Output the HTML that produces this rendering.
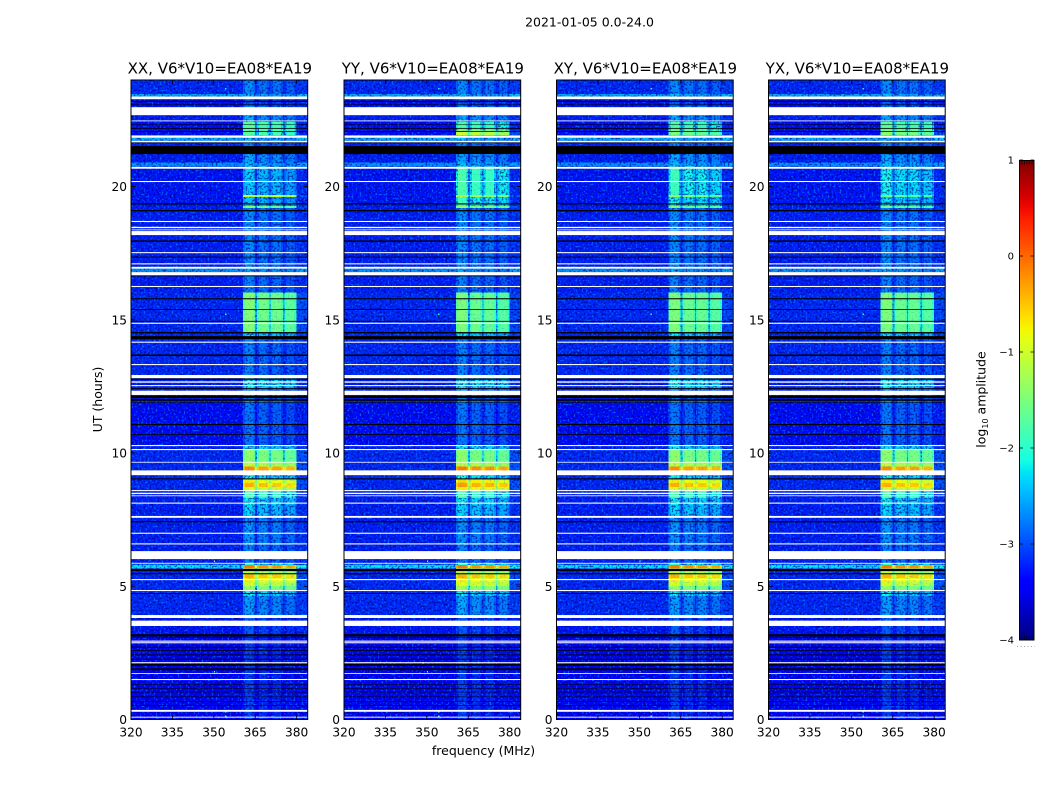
<!DOCTYPE html>
<html><head><meta charset="utf-8"><style>
html,body{margin:0;padding:0;background:#fff}
svg{display:block}
text{font-family:"DejaVu Sans","Liberation Sans",sans-serif;fill:#000}
</style></head>
<body>
<svg id="fig" xmlns="http://www.w3.org/2000/svg" width="1050" height="800" viewBox="0 0 1050 800">
<defs>
<filter id="speckleLight" x="0" y="0" width="100%" height="100%" color-interpolation-filters="sRGB">
<feTurbulence type="fractalNoise" baseFrequency="0.5" numOctaves="1" seed="4"/>
<feColorMatrix values="0 0 0 0 0  0 0 0 0 0.5  0 0 0 0 1  6 0 0 0 -3.3"/>
</filter>
<filter id="speckleDark" x="0" y="0" width="100%" height="100%" color-interpolation-filters="sRGB">
<feTurbulence type="fractalNoise" baseFrequency="0.5" numOctaves="1" seed="11"/>
<feColorMatrix values="0 0 0 0 0  0 0 0 0 0  0 0 0 0 0.55  6 0 0 0 -2.9"/>
</filter>
<linearGradient id="jetGradient" x1="0" y1="1" x2="0" y2="0"></linearGradient>
</defs>
<text x="589.5" y="26.5" font-size="12.5" text-anchor="middle">2021-01-05 0.0-24.0</text>
<text transform="translate(102,399.5) rotate(-90)" font-size="12.5" text-anchor="middle">UT (hours)</text>
<text x="483.5" y="755" font-size="12.5" text-anchor="middle">frequency (MHz)</text>
<text transform="translate(985.5,399.5) rotate(-90)" font-size="12.5" text-anchor="middle">log<tspan font-size="8" dy="2.5">10</tspan><tspan dy="-2.5"> amplitude</tspan></text>
</svg>
<script>
// ---------- chart data (log10 amplitude, UT hours, MHz) ----------
const panelTitles = ["XX, V6*V10=EA08*EA19","YY, V6*V10=EA08*EA19","XY, V6*V10=EA08*EA19","YX, V6*V10=EA08*EA19"];
const panelLeft = [131,344,556.5,768.5];
const freqTicks = [320,335,350,365,380];
const utTicks = [0,5,10,15,20];
const colorTicks = [-4,-3,-2,-1,0,1];
const subbandStart = [360.5,365.6,370.6,375.6];
const subbandEnd = [365,370.2,375,380];
const subbandOffset = [0.12,0,-0.02,-0.12];
const segmentStartUT = [0,3.2,3.92,4.63,4.82,5.01,5.16,5.31,5.45,5.57,5.67,5.8,5.88,6.55,7.57,8.05,8.31,8.57,8.72,8.87,9,9.35,9.5,9.67,10.11,10.3,11.88,12.44,12.81,14.27,14.5,16.03,16.79,16.92,19.2,19.27,19.6,19.68,20.75,20.91,21.22,21.73,21.83,21.94,22.11,22.43,23,23.38,23.47];
const backgroundLevel = [-3.3,-3.15,-3.05,-3.05,-3.05,-3.05,-3.05,-3.05,-3.05,-3.05,-2.1,-2.7,-3.1,-3.1,-3.1,-3.1,-3.1,-3.05,-3.05,-3.05,-3.05,-3.05,-3.05,-3.05,-3.1,-3.2,-3.1,-3.1,-3.05,-3.05,-3.05,-3.1,-2.5,-3.1,-3.1,-3.15,-3.15,-3.15,-2.5,-3.1,-3.1,-2.35,-3.1,-3.2,-3.2,-3.1,-3.2,-2.4,-3.05];
const bandLevelXX = [-3.05,-2.9,-2.55,-2.1,-1.45,-1.05,-0.8,-0.5,-1.2,-1.5,-0.2,-2,-2.7,-2.6,-2.25,-2.15,-1.9,-1,-0.5,-0.8,-2.1,-0.3,-1.2,-1.5,-2.15,-2.75,-2.6,-2.1,-2.7,-2.2,-1.55,-2.7,-2.45,-2.65,-1.6,-2.35,-1,-2.3,-2.4,-2.5,-2.7,-2.35,-2.7,-1.8,-1.8,-2.5,-2.9,-2.4,-2.65];
const bandLevelYY = [-3.05,-2.9,-2.5,-2.1,-1.35,-0.95,-0.8,-0.5,-1.2,-1.5,-0.2,-2,-2.7,-2.6,-2.25,-2.15,-1.9,-0.8,-0.4,-0.7,-2.1,-0.2,-1.2,-1.5,-2.15,-2.75,-2.6,-2.1,-2.7,-2.2,-1.6,-2.7,-2.45,-2.65,-1.5,-2,-1.3,-1.9,-2.4,-2.5,-2.7,-2.35,-2.7,-1.1,-1.9,-2.5,-2.9,-2.4,-2.65];
const bandLevelXY = [-3.05,-2.9,-2.55,-2.1,-1.45,-1.05,-0.8,-0.5,-1.2,-1.5,-0.2,-2,-2.7,-2.6,-2.25,-2.15,-1.9,-1,-0.5,-0.8,-2.1,-0.3,-1.2,-1.5,-2.15,-2.75,-2.6,-2.1,-2.7,-2.2,-1.6,-2.7,-2.45,-2.65,-1.6,-2.1,-1.5,-2,-2.4,-2.5,-2.7,-2.35,-2.7,-1.6,-1.9,-2.5,-2.9,-2.4,-2.65];
const bandLevelYX = [-3.05,-2.9,-2.55,-2.1,-1.45,-1.05,-0.8,-0.5,-1.2,-1.5,-0.2,-2,-2.7,-2.6,-2.25,-2.15,-1.9,-1,-0.5,-0.8,-2.1,-0.3,-1.2,-1.5,-2.15,-2.75,-2.6,-2.1,-2.7,-2.2,-1.6,-2.7,-2.45,-2.65,-1.7,-2.2,-1.7,-2.1,-2.4,-2.5,-2.7,-2.35,-2.7,-1.5,-1.8,-2.5,-2.9,-2.4,-2.65];
const whiteStartUT = [0.07,0.29,1.48,1.71,2.11,2.86,2.92,3.51,3.81,4.82,5.23,5.85,6.02,6.57,6.97,7.57,8.1,8.38,8.46,8.57,9.17,9.64,10.11,10.26,12.18,12.51,12.64,12.81,13.3,14.14,14.85,16.23,16.67,16.92,17.08,17.5,18.18,18.36,18.44,18.67,20.17,20.67,21.66,21.83,22.45,22.68,23.28];
const whiteEndUT = [0.105,0.36,1.52,1.74,2.15,2.9,2.96,3.71,3.92,4.86,5.27,5.88,6.32,6.61,7.01,7.64,8.14,8.41,8.51,8.61,9.35,9.67,10.15,10.3,12.34,12.55,12.69,12.93,13.34,14.18,14.89,16.27,16.79,16.99,17.12,17.54,18.33,18.39,18.49,18.71,20.21,20.74,21.72,21.92,22.48,22.98,23.38];
const blackStartUT = [0.52,0.67,0.84,1.02,1.16,1.3,1.85,2.02,2.25,2.41,2.58,2.7,3.08,3.13,4.71,5.45,5.57,7.4,9.01,10.68,11.05,11.88,11.96,12.06,12.41,12.75,13.64,14.27,14.49,14.93,15.37,15.77,16.63,17.34,17.93,19.07,19.33,21.22,21.63,22.05,22.17,22.31,23.06,23.18];
const blackEndUT = [0.54,0.69,0.86,1.04,1.18,1.32,1.92,2.08,2.28,2.44,2.61,2.73,3.11,3.2,4.74,5.49,5.65,7.44,9.05,10.71,11.09,11.9,12.02,12.15,12.44,12.8,13.7,14.39,14.54,14.96,15.4,15.81,16.67,17.37,17.98,19.12,19.37,21.52,21.66,22.08,22.2,22.33,23.08,23.22];
const rfiFreq = [354,354,354,350,348.5,350,354];
const rfiUT = [0.12,0.28,15.2,5.93,2.12,1.79,23.66];
const rfiLevel = [-1.6,-1.5,-2,-1,-1.2,-1.3,-2];
// ---------- scales ----------
const bandSeries = [bandLevelXX,bandLevelYY,bandLevelXY,bandLevelYX];
const panelWidth = 176.7, panelTop = 80, panelBottom = 719.5;
const NS = "http://www.w3.org/2000/svg";
const fig = document.getElementById("fig");
const xScale = (left, mhz) => left + (mhz - 320) / 64 * panelWidth;
const yScale = ut => panelBottom - ut / 24 * (panelBottom - panelTop);
const cScale = v => 640 - (v + 4) / 5 * 480;
function interp(t, pts){
  for(let i = 1; i < pts.length; i++){
    if(t <= pts[i][0]){
      const a = pts[i-1], b = pts[i];
      return a[1] + (b[1]-a[1]) * (t-a[0]) / (b[0]-a[0]);
    }
  }
  return pts[pts.length-1][1];
}
function jet(v){
  const t = Math.max(0, Math.min(1, (v + 4) / 5));
  const r = interp(t, [[0,0],[.35,0],[.66,1],[.89,1],[1,.5]]);
  const g = interp(t, [[0,0],[.125,0],[.375,1],[.64,1],[.91,0],[1,0]]);
  const b = interp(t, [[0,.5],[.11,1],[.34,1],[.65,0],[1,0]]);
  return "rgb(" + Math.round(r*255) + "," + Math.round(g*255) + "," + Math.round(b*255) + ")";
}
function make(tag, parent, attrs){
  const el = document.createElementNS(NS, tag);
  for(const k in attrs) el.setAttribute(k, attrs[k]);
  parent.appendChild(el);
  return el;
}
const minusText = v => String(v).replace("-", "\u2212");
const faintBias = v => v < -1.95 ? v - 0.13 : v;
// ---------- panels ----------
panelTitles.forEach((title, p) => {
  const left = panelLeft[p];
  const right = left + panelWidth;
  const series = bandSeries[p];
  const panel = make("g", fig, {});
  
  
  const faint = make("g", panel, {"shape-rendering":"crispEdges"});
  
  
  const noiseLight = make("rect", panel, {x:left, y:panelTop, width:panelWidth, height:panelBottom-panelTop, filter:"url(#speckleLight)", opacity:"0.6"});
  
  
  const noiseDark = make("rect", panel, {x:left, y:panelTop, width:panelWidth, height:panelBottom-panelTop, filter:"url(#speckleDark)", opacity:"0.6"});
  
  
  const bright = make("g", panel, {"shape-rendering":"crispEdges"});
  
  
  const noiseBright = make("rect", panel, {x:left, y:panelTop, width:panelWidth, height:panelBottom-panelTop, filter:"url(#speckleLight)", opacity:"0.22"});
  
  
  function cell(f0, f1, u0, u1, v){
    const target = v >= -1.95 ? bright : faint;
    const r = make("rect", target, {x:xScale(left,f0), y:yScale(u1), width:xScale(left,f1)-xScale(left,f0), height:yScale(u0)-yScale(u1), fill:jet(faintBias(v))});
    
    
  }
  segmentStartUT.forEach((u0, i) => {
    const u1 = i + 1 < segmentStartUT.length ? segmentStartUT[i+1] : 24;
    const bg = backgroundLevel[i];
    const level = series[i];
    cell(320, subbandStart[0], u0, u1, bg);
    subbandStart.forEach((f, b) => {
      const v = level + subbandOffset[b];
      const e = subbandEnd[b];
      cell(f, f + 0.7, u0, u1, v - 0.22);
      cell(f + 0.7, e - 0.7, u0, u1, v);
      cell(e - 0.7, e, u0, u1, v - 0.22);
      const gapEnd = b < 3 ? subbandStart[b+1] : 384;
      const gap = b < 3 ? Math.max(bg, level - 0.7) : Math.max(bg + 0.1, Math.min(level - 1.3, -2.85));
      cell(e, gapEnd, u0, u1, gap);
    });
  });
  rfiFreq.forEach((f, i) => {
    const r = make("rect", bright, {x:xScale(left,f), y:yScale(rfiUT[i])-1, width:1.4, height:1.6, fill:jet(rfiLevel[i])});
    
    
  });
  blackStartUT.forEach((u0, i) => {
    const r = make("rect", panel, {x:left, y:yScale(blackEndUT[i]), width:panelWidth, height:yScale(u0)-yScale(blackEndUT[i]), fill:"#000"});
    
    
  });
  whiteStartUT.forEach((u0, i) => {
    const r = make("rect", panel, {x:left, y:yScale(whiteEndUT[i]), width:panelWidth, height:yScale(u0)-yScale(whiteEndUT[i]), fill:"#fff"});
    
    
  });
  const frame = make("rect", panel, {x:left, y:panelTop, width:panelWidth, height:panelBottom-panelTop, fill:"none", stroke:"#000", "stroke-width":"1"});
  
  
  const t = make("text", panel, {x:left+panelWidth/2+0.5, y:73.5, "font-size":"15", "text-anchor":"middle"});
  t.textContent = title;
  
  
  freqTicks.forEach(f => {
    const x = xScale(left, f);
    const tick = make("path", panel, {d:"M"+x+" "+panelBottom+"v-4M"+x+" "+panelTop+"v4", stroke:"#000", "stroke-width":"0.8", fill:"none"});
    
    
    const lab = make("text", panel, {x:x, y:736.5, "font-size":"12.2", "text-anchor":"middle"});
    lab.textContent = f;
    
    
  });
  utTicks.forEach(u => {
    const y = yScale(u);
    const tick = make("path", panel, {d:"M"+left+" "+y+"h4M"+right+" "+y+"h-4", stroke:"#000", "stroke-width":"0.8", fill:"none"});
    
    
    const lab = make("text", panel, {x:left-4, y:y+4.5, "font-size":"12.2", "text-anchor":"end"});
    lab.textContent = u;
    
    
  });
});
// ---------- colorbar ----------
const grad = document.getElementById("jetGradient");
for(let i = 0; i <= 40; i++){
  make("stop", grad, {offset:(i/40), "stop-color":jet(-4 + i/8)});
}
const cbar = make("g", fig, {});


const cbarRect = make("rect", cbar, {x:1019.5, y:160.5, width:14.5, height:479.5, fill:"url(#jetGradient)", stroke:"#000", "stroke-width":"1"});


colorTicks.forEach(v => {
  const y = cScale(v);
  const tick = make("path", cbar, {d:"M1019.5 "+y+"h3.5M1034 "+y+"h-3.5", stroke:"#000", "stroke-width":"0.8", fill:"none"});
  
  
  const lab = make("text", cbar, {x:1014, y:y+3.5, "font-size":"10", "text-anchor":"end"});
  lab.textContent = minusText(v);
  
  
});
const minorTop = make("path", cbar, {d:"M1022 160.5v4M1024.5 160.5v4M1027 160.5v4M1029.5 160.5v4M1032 160.5v4M1022 640v-4M1024.5 640v-4M1027 640v-4M1029.5 640v-4M1032 640v-4", stroke:"#000", "stroke-width":"0.6", fill:"none"});


const dots = make("line", cbar, {x1:1017, x2:1035, y1:646.5, y2:646.5, stroke:"#888", "stroke-width":"0.8", "stroke-dasharray":"1 2.5"});


</script>
</body></html>
